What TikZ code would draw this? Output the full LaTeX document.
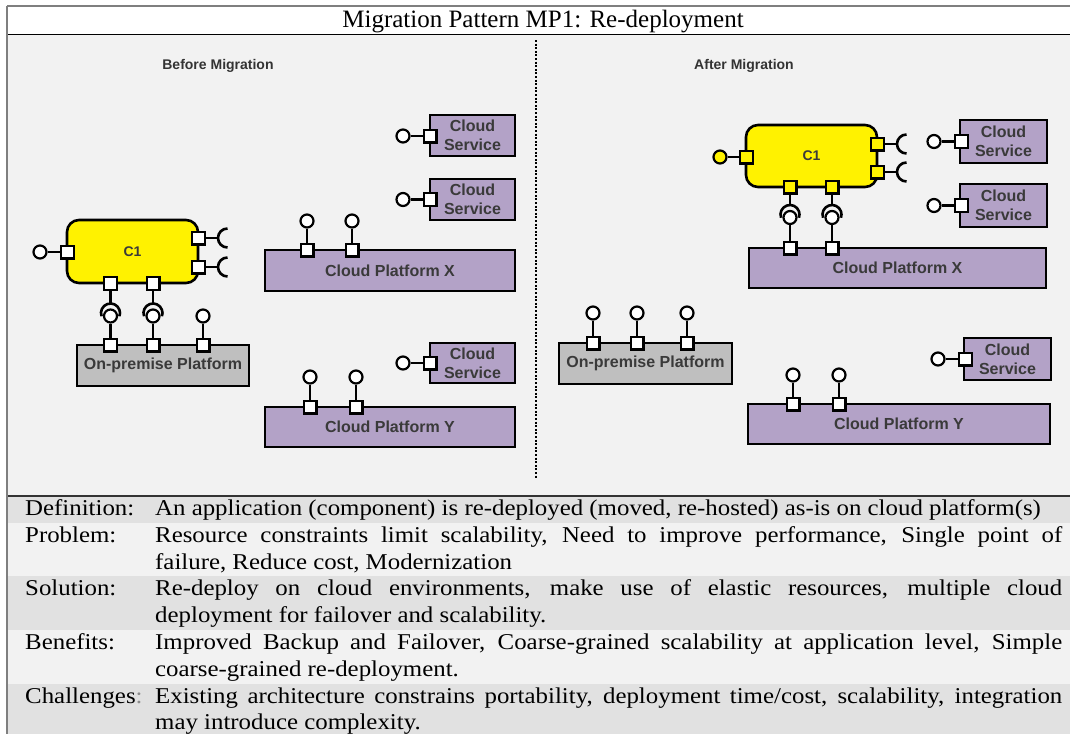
\documentclass[tikz,border=0pt]{standalone}
\usepackage{fontspec}
\setmainfont{Liberation Serif}
\newfontfamily\tabfont[FakeStretch=1.1]{Liberation Serif}
\newfontfamily\diafont{Liberation Sans}
\usetikzlibrary{calc}
\tolerance=10000
\hbadness=10000
\definecolor{panel}{HTML}{F2F2F2}
\definecolor{rowdark}{HTML}{E1E1E1}
\definecolor{lavender}{HTML}{B3A2C7}
\definecolor{platgray}{HTML}{BFBFBF}
\definecolor{labelgray}{HTML}{3A3A3A}
\definecolor{headgray}{HTML}{333333}
\definecolor{framegray}{HTML}{7F7F7F}
\definecolor{midgray}{HTML}{8C8C8C}
\tikzset{
  box/.style={draw=black, line width=2.6pt, inner sep=0pt, text=labelgray, align=center,
    font=\diafont\bfseries\fontsize{16}{19}\selectfont},
  cloudbox/.style={box, fill=lavender},
  prembox/.style={box, fill=platgray},
  compbox/.style={box, fill=yellow, rounded corners=12pt,
    font=\diafont\bfseries\fontsize{14}{16}\selectfont},
  port/.style={draw=black, line width=2.2pt, fill=white, rectangle, minimum size=12.8pt, inner sep=0pt},
  yport/.style={port, fill=yellow},
  ball/.style={draw=black, line width=2.2pt, fill=white, circle, minimum size=13pt, inner sep=0pt},
  yball/.style={ball, fill=yellow},
  wire/.style={line width=2.2pt},
  socket/.style={line width=2.6pt},
  heading/.style={font=\diafont\bfseries\fontsize{14}{16}\selectfont, text=headgray, inner sep=0pt},
  cell/.style={anchor=base west, inner sep=0pt, font=\tabfont\fontsize{22.6}{26.8}\selectfont},
  para/.style={cell, text width=907pt, align=justify},
}
\begin{document}
\begin{tikzpicture}[x=1pt,y=-1pt]
\useasboundingbox (0,0) rectangle (1070,734);
\fill[white] (0,0) rectangle (1070,734);

% frame, title strip, diagram panel and table rows
\fill[white] (7,6) rectangle (1070,34.5);
\fill[panel] (7,34.5) rectangle (1070,496);
\fill[rowdark] (7,496) rectangle (1070,522.8);
\fill[panel] (7,522.8) rectangle (1070,576.4);
\fill[rowdark] (7,576.4) rectangle (1070,630);
\fill[panel] (7,630) rectangle (1070,683.6);
\fill[rowdark] (7,683.6) rectangle (1070,734);
\draw[framegray, line width=1.6pt] (7,6) -- (1070,6);
\draw[line width=1.2pt] (7,34.5) -- (1070,34.5);
\draw[line width=1.2pt, black!80] (7,496) -- (1070,496);
\draw[framegray, line width=1.2pt] (7,6) -- (7,734);

\node[anchor=base, inner sep=0pt, font=\fontsize{25}{30}\selectfont] (title) at (543,27)
  {Migration Pattern MP1: Re-deployment};

\node[heading] (hBefore) at (218,66) {Before Migration};
\node[heading] (hAfter) at (744,66) {After Migration};

% divider between the two states
\coordinate (divTop) at (536,40);
\coordinate (divBot) at (536,478);
\draw[line width=2pt, dash pattern=on 2pt off 1.6pt] (divTop) -- (divBot);

% ================= before migration =================
\node[compbox, minimum width=131pt, minimum height=63pt] (c1L) at (132.5,251.5) {C1};
\node[prembox, minimum width=172pt, minimum height=41pt] (opL) at (163,365.5) {On-premise Platform};
\node[cloudbox, minimum width=85pt, minimum height=41pt] (csL1) at (472.5,135.5) {Cloud\\Service};
\node[cloudbox, minimum width=85pt, minimum height=41pt] (csL2) at (472.5,199.5) {Cloud\\Service};
\node[cloudbox, minimum width=85pt, minimum height=40pt] (csL3) at (472.5,363) {Cloud\\Service};
\node[cloudbox, minimum width=250pt, minimum height=41pt] (cpXL) at (390,270.5) {Cloud Platform X};
\node[cloudbox, minimum width=250pt, minimum height=40pt] (cpYL) at (390,427) {Cloud Platform Y};

% ports
\node[port] (c1Lw) at (67.5,252) {};
\node[port] (c1Le1) at (198.5,238) {};
\node[port] (c1Le2) at (198.5,267) {};
\node[port] (c1Ls1) at (110.5,283.5) {};
\node[port] (c1Ls2) at (153,283.5) {};
\node[port] (opLp1) at (110.5,345) {};
\node[port] (opLp2) at (153,345) {};
\node[port] (opLp3) at (203,345) {};
\node[port] (csL1p) at (430,136) {};
\node[port] (csL2p) at (430,199.5) {};
\node[port] (csL3p) at (430,363) {};
\node[port] (cpXLp1) at (307,250) {};
\node[port] (cpXLp2) at (352,250) {};
\node[port] (cpYLp1) at (310,407) {};
\node[port] (cpYLp2) at (356,407) {};

% required interfaces (sockets), drawn under the balls
\coordinate (c1Le1k) at (218,238);
\coordinate (c1Le2k) at (218,267);
\draw[wire] (c1Le1) -- (c1Le1k);
\draw[wire] (c1Le2) -- (c1Le2k);
\draw[socket] (c1Le1k) ++(9.5,-9.5) arc[start angle=90, end angle=270, radius=9.5pt];
\draw[socket] (c1Le2k) ++(9.5,-9.5) arc[start angle=90, end angle=270, radius=9.5pt];
\coordinate (c1Ls1k) at (110.5,303.5);
\coordinate (c1Ls2k) at (153,303.5);
\draw[wire] (c1Ls1) -- (c1Ls1k);
\draw[wire] (c1Ls2) -- (c1Ls2k);
\draw[socket] (c1Ls1k) ++(-8.93,12.75) arc[start angle=200, end angle=-20, radius=9.5pt];
\draw[socket] (c1Ls2k) ++(-8.93,12.75) arc[start angle=200, end angle=-20, radius=9.5pt];

% provided interfaces (balls)
\node[ball] (c1Lwb) at (40,252) {};
\node[ball] (opLb1) at (110.5,316) {};
\node[ball] (opLb2) at (153,316) {};
\node[ball] (opLb3) at (203,316) {};
\node[ball] (csL1b) at (403,136) {};
\node[ball] (csL2b) at (403,199.5) {};
\node[ball] (csL3b) at (403,363) {};
\node[ball] (cpXLb1) at (307,221) {};
\node[ball] (cpXLb2) at (352,221) {};
\node[ball] (cpYLb1) at (310,377) {};
\node[ball] (cpYLb2) at (356,377) {};

\draw[wire] (c1Lwb) -- (c1Lw);
\draw[wire] (opLb1) -- (opLp1);
\draw[wire] (opLb2) -- (opLp2);
\draw[wire] (opLb3) -- (opLp3);
\draw[wire] (csL1b) -- (csL1p);
\draw[wire] (csL2b) -- (csL2p);
\draw[wire] (csL3b) -- (csL3p);
\draw[wire] (cpXLb1) -- (cpXLp1);
\draw[wire] (cpXLb2) -- (cpXLp2);
\draw[wire] (cpYLb1) -- (cpYLp1);
\draw[wire] (cpYLb2) -- (cpYLp2);

% ================= after migration =================
\node[compbox, minimum width=131pt, minimum height=62pt] (c1R) at (811.5,156) {C1};
\node[prembox, minimum width=173pt, minimum height=41pt] (opR) at (645.5,363.5) {On-premise Platform};
\node[cloudbox, minimum width=87pt, minimum height=43pt] (csR1) at (1003.5,141.5) {Cloud\\Service};
\node[cloudbox, minimum width=87pt, minimum height=43pt] (csR2) at (1003.5,205.5) {Cloud\\Service};
\node[cloudbox, minimum width=87pt, minimum height=42pt] (csR3) at (1007.5,359) {Cloud\\Service};
\node[cloudbox, minimum width=297pt, minimum height=40pt] (cpXR) at (897.5,268) {Cloud Platform X};
\node[cloudbox, minimum width=302pt, minimum height=40pt] (cpYR) at (899,424) {Cloud Platform Y};

% ports
\node[yport] (c1Rw) at (746.5,157) {};
\node[yport] (c1Re1) at (877.5,144) {};
\node[yport] (c1Re2) at (877.5,172) {};
\node[yport] (c1Rs1) at (790,187) {};
\node[yport] (c1Rs2) at (832,187) {};
\node[port] (cpXRp1) at (790,248) {};
\node[port] (cpXRp2) at (832,248) {};
\node[port] (opRp1) at (593,343) {};
\node[port] (opRp2) at (637,343) {};
\node[port] (opRp3) at (687,343) {};
\node[port] (csR1p) at (961.5,141.5) {};
\node[port] (csR2p) at (961.5,205.5) {};
\node[port] (csR3p) at (965.5,359) {};
\node[port] (cpYRp1) at (793,404) {};
\node[port] (cpYRp2) at (839,404) {};

% required interfaces (sockets), drawn under the balls
\coordinate (c1Re1k) at (897,144);
\coordinate (c1Re2k) at (897,172);
\draw[wire] (c1Re1) -- (c1Re1k);
\draw[wire] (c1Re2) -- (c1Re2k);
\draw[socket] (c1Re1k) ++(9.5,-9.5) arc[start angle=90, end angle=270, radius=9.5pt];
\draw[socket] (c1Re2k) ++(9.5,-9.5) arc[start angle=90, end angle=270, radius=9.5pt];
\coordinate (c1Rs1k) at (790,205);
\coordinate (c1Rs2k) at (832,205);
\draw[wire] (c1Rs1) -- (c1Rs1k);
\draw[wire] (c1Rs2) -- (c1Rs2k);
\draw[socket] (c1Rs1k) ++(-8.93,12.75) arc[start angle=200, end angle=-20, radius=9.5pt];
\draw[socket] (c1Rs2k) ++(-8.93,12.75) arc[start angle=200, end angle=-20, radius=9.5pt];

% provided interfaces (balls)
\node[yball] (c1Rwb) at (720,157) {};
\node[ball] (cpXRb1) at (790,217.5) {};
\node[ball] (cpXRb2) at (832,217.5) {};
\node[ball] (opRb1) at (593,313) {};
\node[ball] (opRb2) at (637,313) {};
\node[ball] (opRb3) at (687,313) {};
\node[ball] (csR1b) at (934,141.5) {};
\node[ball] (csR2b) at (934,205.5) {};
\node[ball] (csR3b) at (938,359) {};
\node[ball] (cpYRb1) at (793,375) {};
\node[ball] (cpYRb2) at (839,375) {};

\draw[wire] (c1Rwb) -- (c1Rw);
\draw[wire] (cpXRb1) -- (cpXRp1);
\draw[wire] (cpXRb2) -- (cpXRp2);
\draw[wire] (opRb1) -- (opRp1);
\draw[wire] (opRb2) -- (opRp2);
\draw[wire] (opRb3) -- (opRp3);
\draw[wire] (csR1b) -- (csR1p);
\draw[wire] (csR2b) -- (csR2p);
\draw[wire] (csR3b) -- (csR3p);
\draw[wire] (cpYRb1) -- (cpYRp1);
\draw[wire] (cpYRb2) -- (cpYRp2);

% ================= pattern description =================
\node[cell] (lDef) at (25,515.5) {Definition:};
\node[cell] (lProb) at (25,542.3) {Problem:};
\node[cell] (lSol) at (25,595.9) {Solution:};
\node[cell] (lBen) at (25,649.5) {Benefits:};
\node[cell] (lCha) at (25,703.1) {Challenges\textcolor{midgray}{:}};

\node[para] (tDef) at (155,515.5)
  {An application (component) is re-deployed (moved, re-hosted) as-is on cloud platform(s)};
\node[para] (tProb) at (155,542.3)
  {Resource constraints limit scalability, Need to improve performance, Single point of\linebreak
   failure, Reduce cost, Modernization};
\node[para] (tSol) at (155,595.9)
  {Re-deploy on cloud environments, make use of elastic resources, multiple cloud\linebreak
   deployment for failover and scalability.};
\node[para] (tBen) at (155,649.5)
  {Improved Backup and Failover, Coarse-grained scalability at application level, Simple\linebreak
   coarse-grained re-deployment.};
\node[para] (tCha) at (155,703.1)
  {Existing architecture constrains portability, deployment time/cost, scalability, integration\linebreak
   may introduce complexity.};
\end{tikzpicture}
\end{document}
